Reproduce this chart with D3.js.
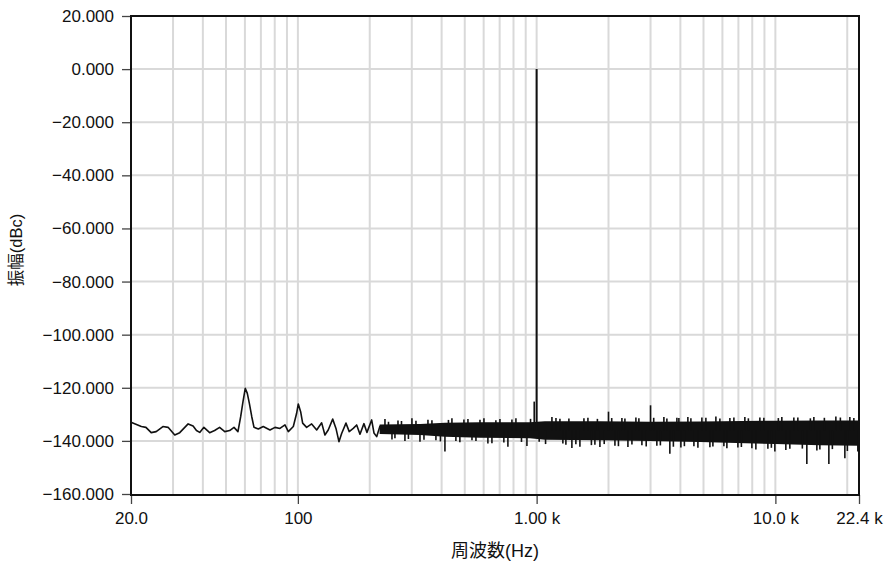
<!DOCTYPE html>
<html>
<head>
<meta charset="utf-8">
<script src="https://cdn.jsdelivr.net/npm/d3@7"></script>
<style>
  body { margin: 0; background: #fff; }
  svg text { font-family: "Liberation Sans", "Noto Sans CJK JP", sans-serif; fill: #111; }
</style>
</head>
<body>
<div id="chart"></div>
<script>
// axis values
const yTicks = [20, 0, -20, -40, -60, -80, -100, -120, -140, -160];
const xTicks = [20, 100, 1000, 10000, 22400];
const xTickLabels = ['20.0', '100', '1.00 k', '10.0 k', '22.4 k'];
const xGrid = [30, 40, 50, 60, 70, 80, 90, 100, 200, 300, 400, 500, 600, 700, 800, 900,
  1000, 2000, 3000, 4000, 5000, 6000, 7000, 8000, 9000, 10000, 20000];

// low frequency part of the trace, [Hz, dBc]
const lowTrace = [
  [20.0, -133.0], [22.1, -134.6], [23.1, -134.9], [24.3, -136.9], [25.5, -136.5],
  [27.2, -134.6], [28.6, -134.9], [30.5, -137.8], [32.0, -136.9], [34.7, -133.6],
  [36.4, -134.4], [37.6, -136.1], [38.8, -136.8], [40.4, -134.9], [42.7, -136.9],
  [44.8, -136.1], [47.0, -134.9], [49.4, -136.5], [51.8, -136.1], [54.0, -134.9],
  [56.1, -136.5], [57.6, -130.9], [58.9, -125.2], [60.2, -120.2], [61.4, -122.1],
  [62.6, -125.8], [64.1, -130.9], [65.5, -134.9], [68.3, -135.5], [71.6, -134.6],
  [76.4, -135.9], [80.2, -134.9], [84.1, -135.3], [88.3, -134.0], [91.2, -136.5],
  [95.7, -134.6], [98.8, -129.6], [100.4, -126.1], [102.7, -129.0], [104.7, -133.3],
  [108.8, -134.9], [114.2, -133.6], [119.9, -135.9], [125.8, -133.2], [129.8, -137.8],
  [134.0, -135.9], [139.9, -131.8], [144.4, -135.3], [148.6, -140.3], [152.5, -137.2],
  [159.0, -133.3], [164.1, -136.5], [170.6, -135.3], [176.3, -134.0], [182.0, -137.5],
  [189.1, -133.5], [194.7, -136.8], [203.7, -132.1], [208.3, -137.0], [213.8, -138.4],
  [220.6, -134.5], [226.0, -136.0]
];

// dense noise floor above ~220 Hz: band edges [Hz, top, bottom]
const bandFreq = [220, 325, 413, 579, 937, 1083, 1840, 3000, 4826, 10000, 15360, 22400];
const bandTop = [-133.8, -133.6, -133.2, -133.0, -133.0, -132.6, -132.6, -132.8, -132.7, -132.4, -132.3, -132.3];
const bandBottom = [-137.4, -137.8, -138.4, -138.8, -139.0, -139.6, -139.8, -140.0, -140.4, -141.2, -141.6, -141.8];

// single bins sticking out of the band, [Hz, dBc]
const spikes = [
  [231.6, -131.8], [247.8, -139.5], [262.6, -132.3], [280.8, -140.0], [300.4, -131.5],
  [324.6, -140.3], [350.6, -132.0], [378.6, -139.8], [413.0, -144.0], [441.8, -131.5],
  [477.0, -140.5], [515.6, -131.8], [557.0, -140.0], [601.6, -131.5], [649.8, -140.9],
  [702.0, -131.8], [758.0, -142.2], [819.0, -131.5], [910.6, -141.9], [977.0, -125.2],
  [1025, -140.3], [1159, -131.0], [1252, -131.7], [1326, -141.5], [1405, -142.7],
  [1518, -142.2], [1640, -131.3], [1754, -141.5], [1841, -142.3], [2000, -129.0],
  [2128, -141.8], [2276, -131.4], [2412, -142.3], [2605, -131.2], [2760, -141.6],
  [3000, -126.6], [3188, -141.8], [3412, -131.0], [3614, -144.8], [3868, -131.3],
  [4020, -142.5], [4300, -131.0], [4558, -142.0], [4922, -131.2], [5318, -142.4],
  [5634, -130.8], [6086, -142.0], [6448, -131.4], [6966, -142.5], [7450, -131.0],
  [7972, -142.8], [8610, -131.2], [9302, -143.0], [9950, -144.0], [10642, -131.0],
  [11496, -143.0], [12420, -131.2], [13544, -148.7], [14494, -131.0], [15358, -143.2],
  [16750, -148.7], [17920, -130.8], [19544, -146.5], [20508, -131.0], [22152, -144.0]
];
// smaller ragged edges of the band, [Hz, dBc]
const edgeBins = [
  [239.6, -132.8], [255, -139.0], [271.6, -132.5], [290.4, -139.3], [312.3, -132.4],
  [337.4, -139.6], [364.3, -132.2], [395.4, -140.2], [427.2, -132.1], [459, -140.0],
  [496, -131.9], [536, -139.8], [579, -132.0], [625, -141.0], [675, -132.2],
  [729, -140.6], [788, -131.9], [864, -140.4], [943, -131.7], [1090, -141.2],
  [1205, -131.4], [1288, -141.0], [1365, -131.6], [1460, -141.3], [1578, -131.5],
  [1696, -141.6], [1797, -131.7], [1919, -141.2], [2063, -131.4], [2201, -142.0],
  [2343, -131.6], [2507, -141.4], [2681, -131.5], [2877, -142.1], [3093, -131.3],
  [3298, -141.7], [3512, -131.6], [3739, -142.2], [3943, -131.4], [4158, -142.0],
  [4427, -131.5], [4737, -142.6], [5116, -131.3], [5474, -142.1], [5856, -131.6],
  [6264, -142.8], [6702, -131.2], [7204, -142.3], [7707, -131.5], [8285, -143.2],
  [8949, -131.3], [9621, -142.6], [10290, -131.4], [11061, -143.4], [11949, -131.2],
  [12970, -142.9], [14011, -131.5], [14920, -143.6], [16039, -131.3], [17325, -143.1],
  [18714, -131.2], [20021, -143.8], [21315, -131.4]
];
const carrierFreq = 1000;
const carrierLevel = 0;
const floorMid = -136;

const width = 895;
const height = 563;
const margin = { top: 16, right: 36, bottom: 69, left: 131 };

const svg = d3.select('#chart').append('svg')
  .attr('width', width)
  .attr('height', height);

const x = d3.scaleLog().domain([20, 22400]).range([margin.left, width - margin.right]);
const y = d3.scaleLinear().domain([-160, 20]).range([height - margin.bottom, margin.top]);

// grid
svg.append('g')
  .selectAll('line')
  .data(xGrid)
  .enter()
  .append('line')
  .attr('x1', d => x(d)).attr('x2', d => x(d))
  .attr('y1', y(20)).attr('y2', y(-160))
  .attr('stroke', '#d9d9d9')
  .attr('stroke-width', 2);
svg.append('g')
  .selectAll('line')
  .data(yTicks.filter(d => d !== 20 && d !== -160))
  .enter()
  .append('line')
  .attr('x1', x(20)).attr('x2', x(22400))
  .attr('y1', d => y(d)).attr('y2', d => y(d))
  .attr('stroke', '#d9d9d9')
  .attr('stroke-width', 2);

// noise band
const band = bandFreq.map((f, i) => ({ f, top: bandTop[i], bottom: bandBottom[i] }));
svg.append('path')
  .datum(band)
  .attr('fill', '#111')
  .attr('d', d3.area().x(d => x(d.f)).y0(d => y(d.bottom)).y1(d => y(d.top)));

svg.append('path')
  .datum(lowTrace)
  .attr('fill', 'none')
  .attr('stroke', '#111')
  .attr('stroke-width', 1.6)
  .attr('stroke-linejoin', 'round')
  .attr('d', d3.line().x(d => x(d[0])).y(d => y(d[1])));

svg.append('g')
  .selectAll('line')
  .data(spikes.concat(edgeBins))
  .enter()
  .append('line')
  .attr('x1', d => x(d[0])).attr('x2', d => x(d[0]))
  .attr('y1', y(floorMid)).attr('y2', d => y(d[1]))
  .attr('stroke', '#111')
  .attr('stroke-width', 1.6);

svg.append('line')
  .attr('x1', x(carrierFreq)).attr('x2', x(carrierFreq))
  .attr('y1', y(floorMid)).attr('y2', y(carrierLevel))
  .attr('stroke', '#111')
  .attr('stroke-width', 2);

// axes
const yAxis = d3.axisLeft(y).tickValues(yTicks).tickSize(8).tickPadding(8).tickFormat(d3.format('.3f'));
const gy = svg.append('g')
  .attr('transform', `translate(${margin.left - 1}, 0)`)
  .call(yAxis);
const xAxis = d3.axisBottom(x).tickValues(xTicks).tickSize(9).tickPadding(8)
  .tickFormat((d, i) => xTickLabels[i]);
const gx = svg.append('g')
  .attr('transform', `translate(0, ${height - margin.bottom + 1})`)
  .call(xAxis);
[gx, gy].forEach(g => {
  g.select('.domain').remove();
  g.selectAll('line').attr('stroke', '#444').attr('stroke-width', 1.3);
  g.selectAll('text').style('font-size', '17px').attr('fill', '#111');
});

// frame
svg.append('rect')
  .attr('x', x(20)).attr('y', y(20))
  .attr('width', x(22400) - x(20))
  .attr('height', y(-160) - y(20) + 1)
  .attr('fill', 'none')
  .attr('stroke', '#111')
  .attr('stroke-width', 2);

svg.append('text')
  .attr('transform', `translate(22, ${(y(20) + y(-160)) / 2 - 5}) rotate(-90)`)
  .attr('text-anchor', 'middle')
  .style('font-size', '16.5px')
  .text('振幅(dBc)');

svg.append('text')
  .attr('x', (x(20) + x(22400)) / 2)
  .attr('y', 557)
  .attr('text-anchor', 'middle')
  .style('font-size', '18px')
  .text('周波数(Hz)');
</script>
</body>
</html>
